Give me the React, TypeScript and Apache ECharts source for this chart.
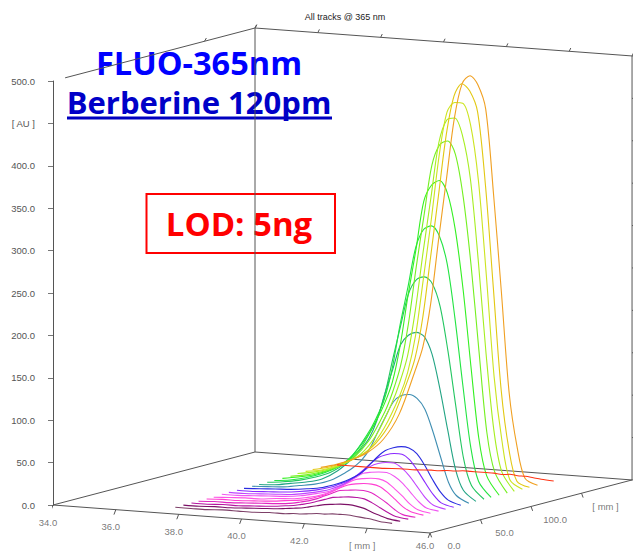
import React, { useEffect, useRef } from "react";
import * as echarts from "echarts";

// Scan position along each track (mm)
const positionsMm = [37.25, 37.75, 38.25, 38.75, 39.25, 39.75, 40.25, 40.5, 40.75, 41, 41.25, 41.5, 41.75, 42, 42.25, 42.5, 42.75, 43, 43.25, 43.5, 43.75, 44.15];

// Signal in AU per track, front (dark) to back (red)
const track01 = [0, 0, 0, 1, 1, 1, 2, 2, 2, 3, 3, 4, 5, 5, 6, 6, 6, 5, 4, 3, 1, 0];
const track02 = [0, 0, 1, 1, 2, 3, 4, 5, 6, 7, 9, 11, 13, 14, 15, 15, 14, 12, 8, 5, 2, 0];
const track03 = [0, 0, 1, 1, 2, 3, 5, 6, 8, 10, 13, 16, 19, 20, 21, 21, 20, 16, 11, 6, 2, 0];
const track04 = [0, 1, 1, 2, 3, 4, 6, 8, 10, 13, 17, 21, 25, 26, 27, 27, 25, 20, 14, 7, 2, 0];
const track05 = [0, 1, 1, 2, 3, 5, 7, 9, 12, 15, 20, 25, 29, 31, 32, 32, 30, 24, 16, 8, 3, 0];
const track06 = [0, 1, 2, 2, 4, 5, 8, 10, 13, 17, 22, 28, 33, 35, 36, 36, 33, 26, 18, 9, 3, 0];
const track07 = [1, 1, 2, 3, 4, 6, 10, 12, 15, 20, 26, 32, 38, 40, 41, 41, 37, 30, 20, 10, 3, 0];
const track08 = [1, 1, 2, 3, 4, 7, 11, 14, 18, 23, 30, 37, 44, 48, 50, 50, 45, 36, 24, 12, 4, 0];
const track09 = [1, 1, 2, 3, 5, 8, 13, 17, 21, 27, 35, 44, 52, 56, 58, 58, 52, 40, 26, 13, 4, 0];
const track10 = [1, 2, 3, 4, 6, 9, 15, 19, 24, 30, 40, 50, 58, 62, 64, 63, 57, 44, 28, 14, 5, 0];
const track11 = [1, 2, 3, 6, 9, 15, 26, 33, 42, 56, 76, 95, 113, 121, 123, 119, 107, 82, 52, 23, 8, 0];
const track12 = [1, 2, 5, 8, 13, 24, 41, 52, 65, 87, 119, 148, 178, 190, 194, 190, 170, 130, 82, 36, 12, 0];
const track13 = [1, 3, 6, 11, 18, 31, 54, 68, 86, 116, 158, 198, 236, 253, 257, 250, 224, 172, 108, 46, 15, 0];
const track14 = [1, 3, 7, 13, 22, 38, 66, 84, 106, 143, 195, 240, 288, 310, 315, 304, 272, 208, 130, 58, 18, 0];
const track15 = [1, 4, 8, 15, 25, 44, 78, 98, 124, 168, 228, 282, 340, 360, 366, 352, 310, 240, 150, 66, 22, 0];
const track16 = [1, 4, 9, 16, 28, 50, 85, 109, 140, 190, 258, 320, 380, 405, 410, 395, 345, 265, 165, 70, 24, 0];
const track17 = [2, 5, 10, 18, 30, 54, 93, 118, 150, 205, 275, 340, 405, 432, 435, 415, 365, 270, 160, 70, 22, 0];
const track18 = [2, 5, 11, 20, 33, 60, 100, 128, 172, 240, 310, 386, 438, 450, 450, 425, 360, 250, 130, 55, 10, 0];
const track19 = [2, 6, 13, 22, 38, 66, 113, 141, 190, 262, 335, 408, 455, 470, 462, 438, 352, 232, 112, 42, 6, 0];
const track20 = [2, 7, 14, 24, 41, 72, 124, 153, 205, 281, 353, 425, 467, 477, 467, 439, 339, 224, 105, 43, 7, 0];
const track21 = [0, 0, 0, 0, 1, 1, 2, 2, 3, 3, 4, 4, 4, 4, 4, 3, 4, 3, 3, 2, 1, 0];

const trackValues = [track01, track02, track03, track04, track05, track06, track07, track08, track09, track10, track11, track12, track13, track14, track15, track16, track17, track18, track19, track20, track21];
const trackDepths = [20, 28, 36, 43, 51, 58, 66, 73, 81, 88, 96, 103, 111, 118, 126, 134, 141, 149, 156, 164, 180];
const trackColors = ["#7d4068", "#7c1066", "#b514a0", "#e226c2", "#ff3ed2", "#ff52e6", "#f056f2", "#c044ff", "#8a28ff", "#2a2ce0", "#3f8eb2", "#22a484", "#22c660", "#22e442", "#34f022", "#74f020", "#a6ee20", "#cce420", "#e2c812", "#f0a022", "#ff3414"];

// Axis ticks
const auTicks = [0, 50, 100, 150, 200, 250, 300, 350, 400, 450, 500];
const mmTicks = ["34.0", "36.0", "38.0", "40.0", "42.0", "[ mm ]", "46.0"];
const mmTickValues = [34, 36, 38, 40, 42, 44, 46];
const depthTicks = ["0.0", "50.0", "100.0", "[ mm ]"];
const depthTickValues = [0, 50, 100, 150];
const topLeftTicks = [150, 200];

const MM_MIN = 34;
const MM_MAX = 46;
const DEPTH_MAX = 200;
const AU_MAX = 500;

// Oblique projection of (mm, depth, AU) onto the axes of the grid
function project(mm: number, depth: number, au: number): [number, number] {
  const d = mm - MM_MIN;
  const sx = 53 + d * 31.42 + depth * 1.01;
  const y = au + (-d * 2.33 + depth * 0.265) / 0.848;
  return [sx, y];
}

function segment(a: [number, number, number], b: [number, number, number], color = "#555", width = 1) {
  return {
    type: "line",
    data: [project(a[0], a[1], a[2]), project(b[0], b[1], b[2])],
    symbol: "none",
    clip: false,
    silent: true,
    lineStyle: { color, width },
  };
}

function labelSeries(points: [number, number][], names: string[], offset: (i: number) => [number, number]) {
  return {
    type: "scatter",
    symbolSize: 1,
    clip: false,
    silent: true,
    itemStyle: { color: "transparent" },
    data: points.map((p, i) => ({ value: p, name: names[i], label: { offset: offset(i) } })),
    label: {
      show: true,
      position: "inside",
      formatter: (p: any) => p.name,
      color: "#555",
      fontFamily: "Liberation Sans",
      fontSize: 9.5,
    },
  };
}

export default function App() {
  const ref = useRef<HTMLDivElement>(null);

  useEffect(() => {
    const chart = echarts.init(ref.current!, null, { renderer: "svg" });

    const frame: any[] = [
      segment([MM_MIN, 0, 0], [MM_MAX, 0, 0]),
      segment([MM_MAX, 0, 0], [MM_MAX, DEPTH_MAX, 0]),
      segment([MM_MIN, 0, 0], [MM_MIN, DEPTH_MAX, 0]),
      segment([MM_MIN, DEPTH_MAX, 0], [MM_MAX, DEPTH_MAX, 0]),
      segment([MM_MIN, DEPTH_MAX, 0], [MM_MIN, DEPTH_MAX, AU_MAX]),
      segment([MM_MIN, 12, AU_MAX], [MM_MIN, DEPTH_MAX, AU_MAX]),
      segment([MM_MIN, DEPTH_MAX, AU_MAX], [MM_MAX, DEPTH_MAX, AU_MAX]),
      segment([MM_MAX, DEPTH_MAX, 0], [MM_MAX, DEPTH_MAX, AU_MAX]),
    ];

    mmTickValues.forEach((mm) => {
      frame.push(segment([mm, 0, 0], [mm - 0.06, 0, -6]));
      frame.push(segment([mm, DEPTH_MAX, AU_MAX], [mm + 0.05, DEPTH_MAX, AU_MAX + 4]));
    });
    depthTickValues.forEach((t) => {
      frame.push(segment([MM_MAX, t, 0], [MM_MAX + 0.05, t, -5]));
    });
    topLeftTicks.forEach((t) => {
      frame.push(segment([MM_MIN, t, AU_MAX], [MM_MIN + 0.06, t, AU_MAX + 4]));
    });
    auTicks.forEach((au) => {
      const p = project(MM_MAX, DEPTH_MAX, au);
      frame.push({
        type: "line",
        data: [p, [p[0] + 3, p[1]]],
        symbol: "none",
        clip: false,
        silent: true,
        lineStyle: { color: "#555", width: 1 },
      });
    });

    const tracks = trackValues.map((values, i) => ({
      type: "line",
      name: `track ${i + 1}`,
      data: values.map((au, k) => project(positionsMm[k], trackDepths[i], au)),
      symbol: "none",
      smooth: 0.3,
      clip: false,
      silent: true,
      lineStyle: { color: trackColors[i], width: 1.1 },
    }));

    const mmLabels = labelSeries(
      mmTickValues.map((mm) => project(mm, 0, 0)),
      mmTicks,
      (i) => (i === mmTicks.length - 1 ? [-5, 13] : [-5, 17])
    );
    const depthLabels = labelSeries(
      depthTickValues.map((t) => project(MM_MAX, t, 0)),
      depthTicks,
      () => [24, 13]
    );

    chart.setOption({
      animation: false,
      backgroundColor: "#fff",
      title: {
        text: "All tracks @ 365 nm",
        left: 340,
        top: 7,
        textAlign: "center",
        textStyle: { fontFamily: "Liberation Sans", fontSize: 9, fontWeight: "normal", color: "#222" },
      },
      grid: { left: 53, right: 3, top: 81, bottom: 47 },
      xAxis: { type: "value", min: 53, max: 632, show: false },
      yAxis: {
        type: "value",
        min: 0,
        max: AU_MAX,
        interval: 50,
        splitLine: { show: false },
        axisLine: { show: true, lineStyle: { color: "#555" } },
        axisTick: { show: true, length: 5, lineStyle: { color: "#777" } },
        axisLabel: {
          margin: 18,
          color: "#555",
          fontFamily: "Liberation Sans",
          fontSize: 9.5,
          formatter: (v: number) => (v === 450 ? "[ AU ]" : v.toFixed(1)),
        },
      },
      series: [...frame, ...tracks, mmLabels, depthLabels],
      graphic: [
        {
          type: "text",
          x: 199,
          y: 62,
          style: { text: "FLUO-365nm", fill: "#0000ff", font: "bold 32.5px 'Open Sans'", textAlign: "center", textVerticalAlign: "middle" },
        },
        {
          type: "text",
          x: 199,
          y: 102,
          style: { text: "Berberine 120pm", fill: "#0000c8", font: "bold 31px 'Open Sans'", textAlign: "center", textVerticalAlign: "middle" },
        },
        { type: "line", shape: { x1: 67, y1: 118, x2: 332, y2: 118 }, style: { stroke: "#0000c0", lineWidth: 3 } },
        { type: "rect", shape: { x: 146.5, y: 194, width: 188.5, height: 59 }, style: { fill: "none", stroke: "#ff0000", lineWidth: 2 } },
        {
          type: "text",
          x: 239,
          y: 223,
          style: { text: "LOD: 5ng", fill: "#ff0000", font: "bold 33px 'Open Sans'", textAlign: "center", textVerticalAlign: "middle" },
        },
      ],
    });

    return () => chart.dispose();
  }, []);

  return <div ref={ref} style={{ position: "absolute", left: 0, top: 0, width: 635, height: 552 }} />;
}
